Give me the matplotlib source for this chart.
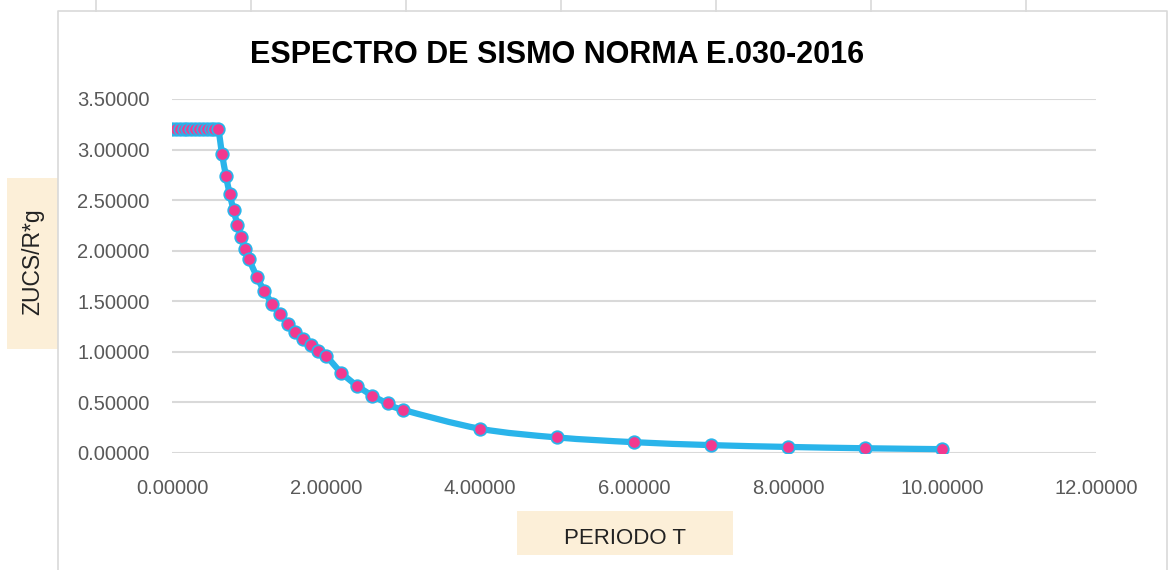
import matplotlib.pyplot as plt
import numpy as np
from matplotlib.patches import Rectangle, PathPatch
from matplotlib.path import Path
from matplotlib.lines import Line2D

plt.rcParams['font.family'] = ['Liberation Sans', 'DejaVu Sans']

# periodo T and ZUCS/R*g
T = [0.00, 0.05, 0.10, 0.15, 0.20, 0.25, 0.30, 0.35, 0.40, 0.45, 0.50, 0.55, 0.60,
     0.65, 0.70, 0.75, 0.80, 0.85, 0.90, 0.95, 1.00,
     1.10, 1.20, 1.30, 1.40, 1.50, 1.60, 1.70, 1.80, 1.90, 2.00,
     2.20, 2.40, 2.60, 2.80, 3.00, 4.00, 5.00, 6.00, 7.00, 8.00, 9.00, 10.00]
Sa = [3.200, 3.200, 3.200, 3.200, 3.200, 3.200, 3.200, 3.200, 3.200, 3.200, 3.200, 3.200, 3.200,
      2.954, 2.743, 2.560, 2.400, 2.259, 2.133, 2.021, 1.920,
      1.745, 1.600, 1.477, 1.371, 1.280, 1.200, 1.129, 1.067, 1.011, 0.960,
      0.793, 0.667, 0.568, 0.490, 0.427, 0.240, 0.154, 0.107, 0.078, 0.060, 0.047, 0.038]

xticks = [0, 2, 4, 6, 8, 10, 12]
yticks = [0, 0.5, 1.0, 1.5, 2.0, 2.5, 3.0, 3.5]

W, H = 1169, 570
fig = plt.figure(figsize=(W / 100, H / 100), dpi=100)

# chart frame + stub of the chart above
fig.add_artist(Line2D([58 / W, 58 / W, 1167 / W, 1167 / W], [0, 1 - 11 / H, 1 - 11 / H, 0],
                      color='#d9d9d9', lw=1.2))
for px in [96, 251, 406, 561, 716, 871, 1026]:
    fig.add_artist(Line2D([px / W, px / W], [1 - 11 / H, 1], color='#d9d9d9', lw=1.2))

ax = fig.add_axes([172 / W, 1 - 453 / H, (1096 - 172) / W, (453 - 99) / H])
ax.set_xlim(0, 12)
ax.set_ylim(0, 3.5)
ax.set_xticks(xticks)
ax.set_yticks(yticks)
ax.set_xticklabels([f'{v:.5f}' for v in xticks])
ax.set_yticklabels([f'{v:.5f}' for v in yticks])
ax.tick_params(length=0, labelsize=14.5, labelcolor='#595959')
ax.tick_params(axis='y', pad=16)
ax.tick_params(axis='x', pad=19)
for s in ax.spines.values():
    s.set_visible(False)
ax.grid(axis='y', color='#d9d9d9', lw=1.5)
ax.set_axisbelow(True)

# smoothed line (bezier through the points, like excel)
x = np.array(T)
y = np.array(Sa)
verts = [(x[0], y[0])]
codes = [Path.MOVETO]
n = len(x)
for i in range(n - 1):
    p0 = np.array([x[max(i - 1, 0)], y[max(i - 1, 0)]])
    p1 = np.array([x[i], y[i]])
    p2 = np.array([x[i + 1], y[i + 1]])
    p3 = np.array([x[min(i + 2, n - 1)], y[min(i + 2, n - 1)]])
    c1 = p1 + (p2 - p0) / 6
    c2 = p2 - (p3 - p1) / 6
    verts += [tuple(c1), tuple(c2), tuple(p2)]
    codes += [Path.CURVE4] * 3
ax.add_patch(PathPatch(Path(verts, codes), fill=False, edgecolor='#2ab4ea', lw=4.5,
                       capstyle='round', joinstyle='round', zorder=3))
ax.plot(T, Sa, 'o', ms=9, mfc='#f2398f', mec='#2ab4ea', mew=1.3, zorder=4)

fig.text(557 / W, 1 - 55 / H, 'ESPECTRO DE SISMO NORMA E.030-2016', ha='center', va='center',
         fontsize=22, fontweight='bold', color='black')

# axis title boxes
fig.add_artist(Rectangle((7 / W, 1 - 349 / H), 51 / W, 171 / H, facecolor='#fcefd8',
                         edgecolor='none'))
fig.text(33 / W, 1 - 262 / H, 'ZUCS/R*g', rotation=90, ha='center', va='center',
         fontsize=16.5, color='#222222')
fig.add_artist(Rectangle((517 / W, 1 - 555 / H), 216 / W, 44 / H, facecolor='#fcefd8',
                         edgecolor='none'))
fig.text(625 / W, 1 - 538 / H, 'PERIODO T', ha='center', va='center',
         fontsize=16, color='#222222')

fig.savefig('out.png', dpi=100)
